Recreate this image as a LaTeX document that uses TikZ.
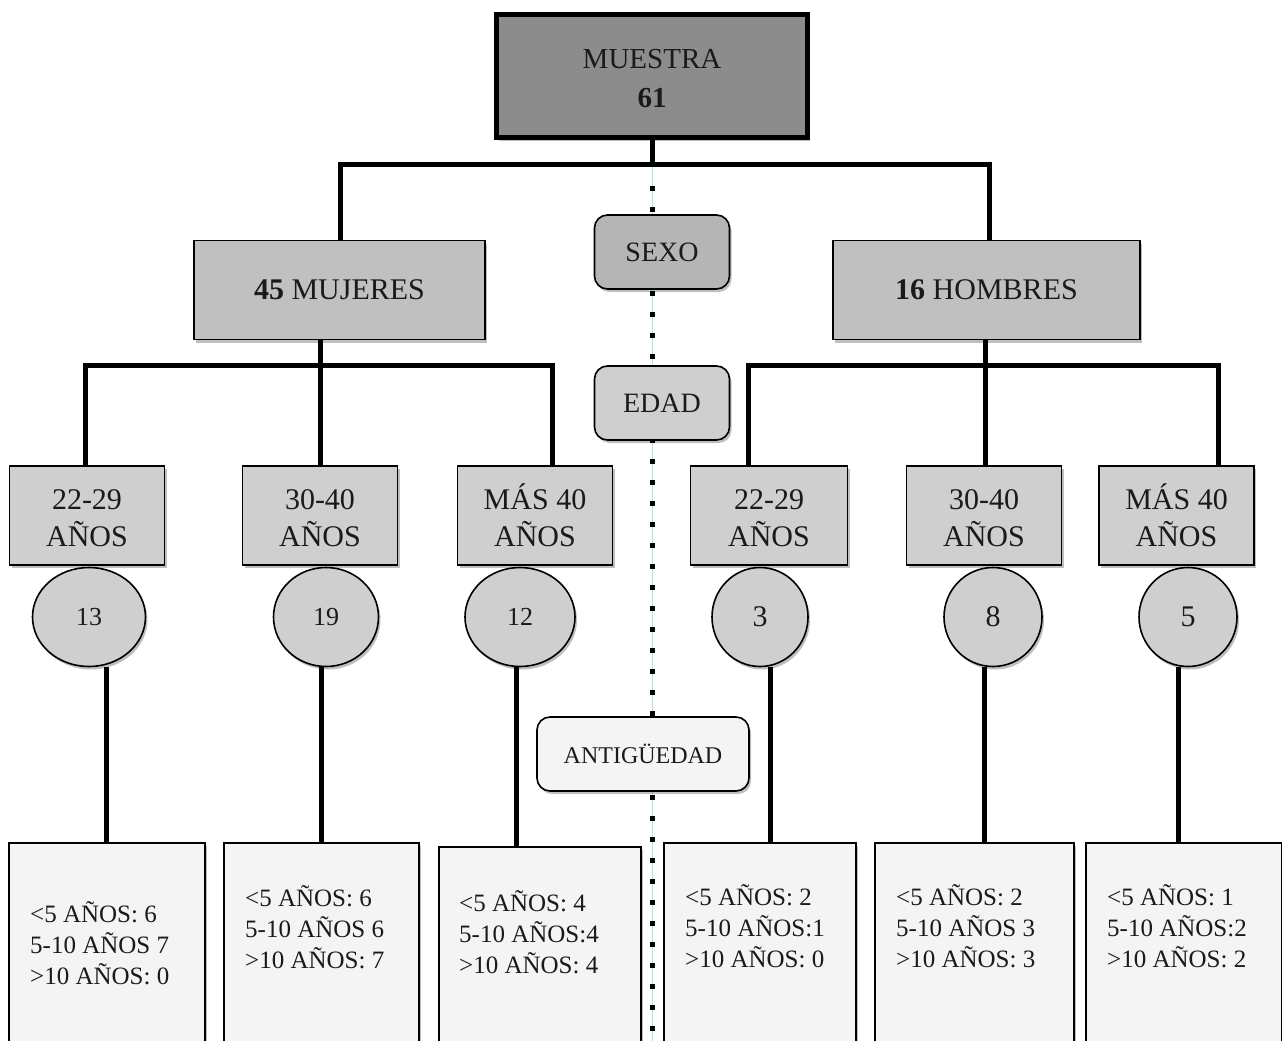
\documentclass[tikz,border=0pt]{standalone}
\usepackage{fontspec}
\setmainfont{Liberation Serif}
\usetikzlibrary{shapes.geometric,shadows}
\definecolor{dk}{HTML}{8C8C8C}
\definecolor{md}{HTML}{C0C0C0}
\definecolor{lt}{HTML}{CFCFCF}
\definecolor{sx}{HTML}{B5B5B5}
\definecolor{pl}{HTML}{F4F4F4}
\definecolor{txt}{HTML}{1A1A1A}
\definecolor{cy}{HTML}{A8E6DC}
\begin{document}
\begin{tikzpicture}[x=1pt,y=-1pt,
  shd/.style={drop shadow={shadow xshift=2pt,shadow yshift=-3pt,opacity=.25,fill=black}},
  conn/.style={line width=5pt,line join=miter},
  topbox/.style={draw,line width=5pt,fill=dk,minimum width=311pt,minimum height=123pt,align=center,text=txt,shd,font=\fontsize{29}{39}\selectfont},
  sexbox/.style={draw,line width=1.6pt,fill=md,minimum height=99pt,text=txt,shd,font=\fontsize{30}{37}\selectfont},
  catbox/.style={draw,line width=1.6pt,rounded corners=13pt,minimum width=135pt,minimum height=74pt,text=txt,shd,font=\fontsize{28}{34}\selectfont},
  agebox/.style={draw,line width=1.6pt,fill=lt,minimum width=155pt,minimum height=99pt,align=center,text=txt,shd,font=\fontsize{30}{37}\selectfont},
  cnt/.style={draw,line width=1.6pt,fill=lt,ellipse,inner sep=0pt,minimum height=99pt,text=txt,shd},
  resbox/.style={draw,line width=1.6pt,fill=pl,shd,anchor=north west,inner sep=0pt},
  rtxt/.style={anchor=west,inner sep=0pt,align=left,text=txt,font=\fontsize{25}{31}\selectfont}]
\useasboundingbox (0,0) rectangle (1282,1041);
\clip (0,0) rectangle (1282,1041);
\fill[white] (0,0) rectangle (1282,1041);
% dotted separator
\coordinate (h0) at (652,164);
\coordinate (hend) at (652,1060);
\draw[cy,line width=0.8pt] (h0) -- (hend);
\draw[line width=5pt,dash pattern=on 5pt off 16pt] (652,186) -- (hend);
% top
\node[topbox] (m) at (652,76) {\vphantom{Á}MUESTRA\\\textbf{61}};
\node[sexbox,minimum width=291pt] (mu) at (339.5,290) {\textbf{45} MUJERES};
\node[sexbox,minimum width=307pt] (ho) at (986.5,290) {\textbf{16} HOMBRES};
\node[catbox,fill=sx] (sexo) at (662,252) {SEXO};
\node[catbox,fill=lt] (edad) at (662,403) {EDAD};
\node[catbox,fill=pl,minimum width=212pt,font=\fontsize{24}{30}\selectfont] (ant) at (643,754) {ANTIGÜEDAD};
% age boxes
\node[agebox] (a1) at (87,515.5) {\vphantom{Á}22-29\\AÑOS};
\node[agebox] (a2) at (320,515.5) {\vphantom{Á}30-40\\AÑOS};
\node[agebox] (a3) at (535,515.5) {MÁS 40\\AÑOS};
\node[agebox,minimum width=157pt] (a4) at (769,515.5) {\vphantom{Á}22-29\\AÑOS};
\node[agebox] (a5) at (984,515.5) {\vphantom{Á}30-40\\AÑOS};
\node[agebox] (a6) at (1176.5,515.5) {MÁS 40\\AÑOS};
% counts
\node[cnt,minimum width=113pt,font=\fontsize{26}{30}\selectfont] (c1) at (89,617) {13};
\node[cnt,minimum width=105pt,font=\fontsize{26}{30}\selectfont] (c2) at (326,617) {19};
\node[cnt,minimum width=110pt,font=\fontsize{26}{30}\selectfont] (c3) at (520,617) {12};
\node[cnt,minimum width=96pt,font=\fontsize{30}{36}\selectfont] (c4) at (760,617) {3};
\node[cnt,minimum width=98pt,font=\fontsize{30}{36}\selectfont] (c5) at (993,617) {8};
\node[cnt,minimum width=98pt,font=\fontsize{30}{36}\selectfont] (c6) at (1188,617) {5};
% result boxes
\node[resbox,minimum width=196pt,minimum height=230pt] (r1) at (8,842) {};
\node[resbox,minimum width=195pt,minimum height=230pt] (r2) at (223,842) {};
\node[resbox,minimum width=202pt,minimum height=230pt] (r3) at (438,846) {};
\node[resbox,minimum width=192pt,minimum height=230pt] (r4) at (663,842) {};
\node[resbox,minimum width=199pt,minimum height=230pt] (r5) at (874,842) {};
\node[resbox,minimum width=196pt,minimum height=230pt] (r6) at (1085,842) {};
\node[rtxt] (x1) at (30,943) {<5 AÑOS: 6\\5-10 AÑOS 7\\>10 AÑOS: 0};
\node[rtxt] (x2) at (245,927) {<5 AÑOS: 6\\5-10 AÑOS 6\\>10 AÑOS: 7};
\node[rtxt] (x3) at (459,932) {<5 AÑOS: 4\\5-10 AÑOS:4\\>10 AÑOS: 4};
\node[rtxt] (x4) at (685,926) {<5 AÑOS: 2\\5-10 AÑOS:1\\>10 AÑOS: 0};
\node[rtxt] (x5) at (896,926) {<5 AÑOS: 2\\5-10 AÑOS 3\\>10 AÑOS: 3};
\node[rtxt] (x6) at (1107,926) {<5 AÑOS: 1\\5-10 AÑOS:2\\>10 AÑOS: 2};
% connectors top
\coordinate (hl) at (340,164);
\coordinate (hr) at (989,164);
\draw[conn] (m.south) -- (h0);
\draw[conn] (mu.north -| hl) -- (hl) -- (hr) -- (hr |- ho.north);
% mujeres bus
\coordinate (jl) at (320,365);
\coordinate (bl1) at (85,365);
\coordinate (bl3) at (552,365);
\draw[conn] (mu.south -| jl) -- (jl |- a2.north);
\draw[conn] (bl1 |- a1.north) -- (bl1) -- (bl3) -- (bl3 |- a3.north);
% hombres bus
\coordinate (jr) at (985,365);
\coordinate (br1) at (748,365);
\coordinate (br3) at (1218,365);
\draw[conn] (ho.south -| jr) -- (jr |- a5.north);
\draw[conn] (br1 |- a4.north) -- (br1) -- (br3) -- (br3 |- a6.north);
% circle to result lines
\coordinate (t1) at (106,667);
\coordinate (t2) at (321,667);
\coordinate (t3) at (516,667);
\coordinate (t4) at (770,667);
\coordinate (t5) at (984,667);
\coordinate (t6) at (1178,667);
\draw[conn] (t1) -- (t1 |- r1.north);
\draw[conn] (t2) -- (t2 |- r2.north);
\draw[conn] (t3) -- (t3 |- r3.north);
\draw[conn] (t4) -- (t4 |- r4.north);
\draw[conn] (t5) -- (t5 |- r5.north);
\draw[conn] (t6) -- (t6 |- r6.north);
\end{tikzpicture}
\end{document}
